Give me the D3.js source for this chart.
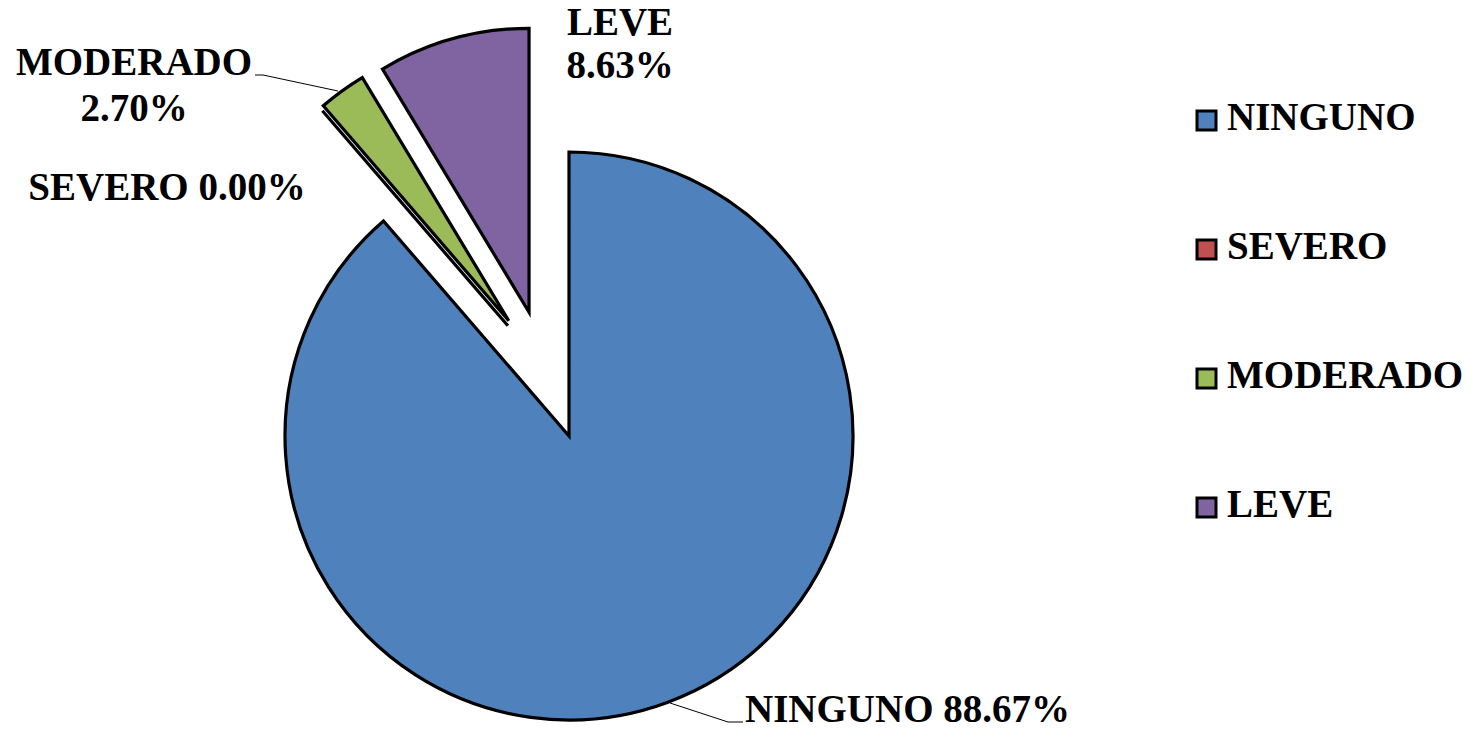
<!DOCTYPE html>
<html>
<head>
<meta charset="utf-8">
<script src="https://cdn.jsdelivr.net/npm/d3@7"></script>
<style>
  html, body { margin: 0; padding: 0; background: #fff; }
  svg { display: block; }
  text { font-family: "Liberation Serif", "Times New Roman", serif; font-weight: bold; fill: #000; }
</style>
</head>
<body>
<svg id="chart" width="1471" height="729"></svg>
<script>
// ---- data ----
const categories = ["NINGUNO", "SEVERO", "MODERADO", "LEVE"];
const values = [88.67, 0.00, 2.70, 8.63];
const valueLabels = ["88.67%", "0.00%", "2.70%", "8.63%"];

// ---- style ----
const colors = ["#4F81BD", "#C0504D", "#9BBB59", "#8064A2"];
const W = 1471, H = 729;
const cx = 569, cy = 436, R = 284;
// explosion: distance (px) and direction (degrees clockwise from 12 o'clock)
const explodeDist = [0, 126, 130, 130];
const explodeDir = [0, 331, 332.4, 342.1];
const fontSize = 39;

const svg = d3.select("#chart");

const pie = d3.pie().sort(null).value(d => d.value).startAngle(0).endAngle(2 * Math.PI);
const arc = d3.arc().innerRadius(0).outerRadius(R);

const data = categories.map((c, i) => ({ name: c, value: values[i], label: valueLabels[i], i }));
const arcs = pie(data);

const g = svg.append("g").attr("transform", `translate(${cx},${cy})`);

g.selectAll("path.slice")
  .data(arcs)
  .join("path")
  .attr("class", "slice")
  .attr("d", arc)
  .attr("fill", d => colors[d.data.i])
  .attr("stroke", "#000")
  .attr("stroke-width", 3.2)
  .attr("stroke-linejoin", "miter")
  .attr("transform", d => {
    const a = explodeDir[d.data.i] * Math.PI / 180;
    const dist = explodeDist[d.data.i];
    return `translate(${dist * Math.sin(a)},${-dist * Math.cos(a)})`;
  });

// ---- data labels (positions relative to pie center) ----
const labelLayout = {
  "NINGUNO":  { lines: d => [d.name + " " + d.label], x: 176, y: [286], anchor: "start",
                leader: [[174, 286], [159, 286], [101, 267]] },
  "SEVERO":   { lines: d => [d.name + " " + d.label], x: -402, y: [-236], anchor: "middle" },
  "MODERADO": { lines: d => [d.name, d.label], x: -435, y: [-361, -315], anchor: "middle",
                leader: [[-314, -361], [-306, -361], [-231, -345]] },
  "LEVE":     { lines: d => [d.name, d.label], x: 51, y: [-401, -358], anchor: "middle" }
};

const lg = svg.append("g").attr("transform", `translate(${cx},${cy})`);
arcs.forEach(d => {
  const L = labelLayout[d.data.name];
  if (L.leader) {
    lg.append("path")
      .attr("d", d3.line()(L.leader))
      .attr("fill", "none")
      .attr("stroke", "#000")
      .attr("stroke-width", 1);
  }
  L.lines(d.data).forEach((s, k) => {
    lg.append("text")
      .attr("text-anchor", L.anchor)
      .attr("font-size", fontSize)
      .attr("x", L.x).attr("y", L.y[k])
      .text(s);
  });
});

// ---- legend ----
const legendY = d3.scalePoint().domain(categories).range([130, 517]);
const leg = svg.append("g");
const items = leg.selectAll("g.item").data(categories).join("g").attr("class", "item")
  .attr("transform", d => `translate(1197,${legendY(d)})`);
items.append("rect")
  .attr("x", 0).attr("y", -19).attr("width", 19).attr("height", 19)
  .attr("fill", (d, i) => colors[i])
  .attr("stroke", "#000").attr("stroke-width", 3);
items.append("text")
  .attr("x", 30).attr("y", 0)
  .attr("font-size", fontSize)
  .text(d => d);
</script>
</body>
</html>
